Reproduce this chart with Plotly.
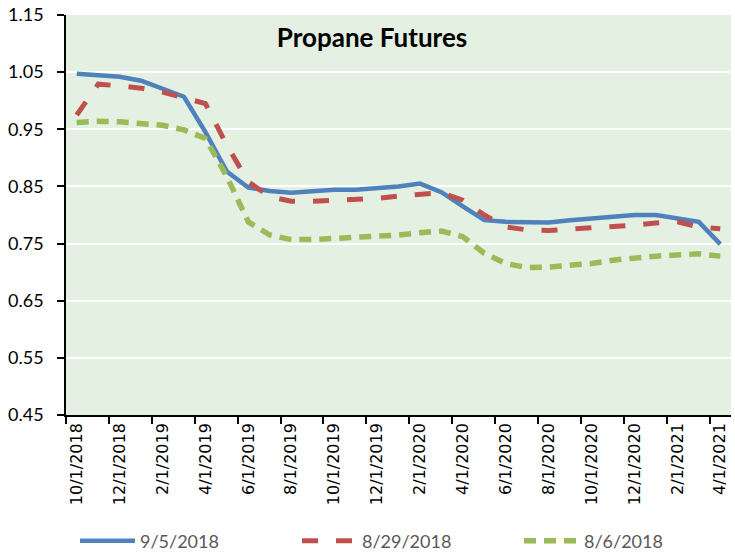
import plotly.graph_objects as go

months = ["10/1/2018", "11/1/2018", "12/1/2018", "1/1/2019", "2/1/2019", "3/1/2019",
          "4/1/2019", "5/1/2019", "6/1/2019", "7/1/2019", "8/1/2019", "9/1/2019",
          "10/1/2019", "11/1/2019", "12/1/2019", "1/1/2020", "2/1/2020", "3/1/2020",
          "4/1/2020", "5/1/2020", "6/1/2020", "7/1/2020", "8/1/2020", "9/1/2020",
          "10/1/2020", "11/1/2020", "12/1/2020", "1/1/2021", "2/1/2021", "3/1/2021",
          "4/1/2021"]

s_0905 = [1.047, 1.045, 1.042, 1.035, 1.022, 1.007, 0.945, 0.876, 0.848, 0.842,
          0.839, 0.841, 0.844, 0.844, 0.847, 0.850, 0.855, 0.840, 0.815, 0.791,
          0.788, 0.787, 0.787, 0.791, 0.794, 0.797, 0.800, 0.800, 0.793, 0.788,
          0.749]
s_0829 = [0.975, 1.029, 1.026, 1.022, 1.015, 1.006, 0.995, 0.922, 0.858, 0.832,
          0.824, 0.824, 0.825, 0.826, 0.829, 0.833, 0.837, 0.839, 0.826, 0.800,
          0.779, 0.774, 0.773, 0.775, 0.776, 0.779, 0.782, 0.786, 0.788, 0.779,
          0.776]
s_0806 = [0.962, 0.964, 0.963, 0.961, 0.957, 0.949, 0.934, 0.867, 0.788, 0.765,
          0.757, 0.757, 0.759, 0.761, 0.762, 0.765, 0.769, 0.772, 0.762, 0.733,
          0.715, 0.708, 0.709, 0.712, 0.715, 0.721, 0.725, 0.728, 0.730, 0.732,
          0.728]

series_names = ["9/5/2018", "8/29/2018", "8/6/2018"]
title_text = "Propane Futures"

fig = go.Figure()
fig.add_trace(go.Scatter(x=months, y=s_0905, name=series_names[0], mode="lines",
                         line=dict(color="#4F81BD", width=4.5), legend="legend"))
fig.add_trace(go.Scatter(x=months, y=s_0829, name=series_names[1], mode="lines",
                         line=dict(color="#C0504D", width=5, dash="16px,18px"), legend="legend"))
fig.add_trace(go.Scatter(x=months, y=s_0806, name=series_names[2], mode="lines",
                         line=dict(color="#9BBB59", width=5.5, dash="12px,8px"), legend="legend2"))

legend_common = dict(orientation="h", xref="container", xanchor="left",
                     yref="container", y=12 / 553, yanchor="middle",
                     font=dict(family="Lato", size=18, color="#595959"),
                     itemwidth=55, bgcolor="rgba(0,0,0,0)")

fig.update_layout(
    width=735, height=553,
    margin=dict(l=66, r=4, t=15, b=138, autoexpand=False),
    paper_bgcolor="white",
    plot_bgcolor="#E3F0E2",
    title=dict(text="<b>" + title_text + "</b>", x=372 / 735, xanchor="center",
               y=1 - 38 / 553, yanchor="middle", automargin=False,
               font=dict(family="Lato", size=26, color="black")),
    legend=dict(x=75 / 735, entrywidth=152, entrywidthmode="pixels", **legend_common),
    legend2=dict(x=519 / 735, **legend_common),
    showlegend=True,
)
fig.update_xaxes(type="category", range=[-0.5, 30.5], tickmode="linear", tick0=0, dtick=2,
                 tickson="boundaries", ticks="outside", ticklen=7, tickcolor="black",
                 tickwidth=1.5, showline=True, linecolor="black", linewidth=1.5,
                 showgrid=False, tickangle=-90, automargin=False,
                 tickfont=dict(family="DejaVu Sans", size=16, color="black"))
fig.update_yaxes(range=[0.45, 1.15], tickmode="linear", tick0=0.45, dtick=0.1,
                 tickformat=".2f", ticks="outside", ticklen=7, tickcolor="black",
                 tickwidth=1.5, showline=True, linecolor="black", linewidth=1.5,
                 showgrid=True, gridcolor="white", gridwidth=2, zeroline=False,
                 automargin=False, ticklabelstandoff=10,
                 tickfont=dict(family="Lato", size=18, color="black"))

fig.write_html("out.html", config={"displayModeBar": False})
with open("out.html", "r", encoding="utf-8") as f:
    html = f.read()
html = html.replace("<head>", "<head><style>html,body{margin:0;padding:0;overflow:hidden;}</style>", 1)
with open("out.html", "w", encoding="utf-8") as f:
    f.write(html)
